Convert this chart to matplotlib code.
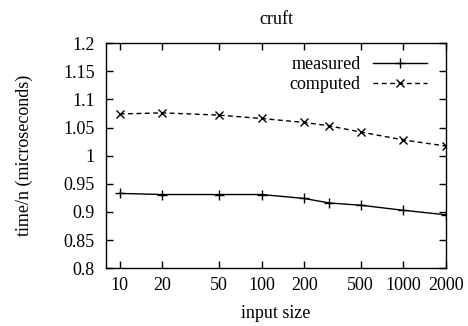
import matplotlib
matplotlib.use("Agg")
import matplotlib.pyplot as plt
from matplotlib.ticker import FixedLocator, NullLocator, FixedFormatter

plt.rcParams['font.family'] = ['Liberation Serif', 'DejaVu Serif']

sizes = [10, 20, 50, 100, 200, 300, 500, 1000, 2000]
measured = [0.933, 0.931, 0.931, 0.931, 0.924, 0.916, 0.912, 0.903, 0.895]
computed = [1.074, 1.076, 1.072, 1.066, 1.059, 1.053, 1.042, 1.028, 1.017]

xticks = [10, 20, 50, 100, 200, 500, 1000, 2000]
yticks = [0.8, 0.85, 0.9, 0.95, 1.0, 1.05, 1.1, 1.15, 1.2]
ytick_labels = ['0.8', '0.85', '0.9', '0.95', '1', '1.05', '1.1', '1.15', '1.2']

fs = 13

fig = plt.figure(figsize=(4.68, 3.26), dpi=100)
ax = fig.add_axes([0.2265, 0.177, 0.7265, 0.691])

ax.plot(sizes, measured, color='black', lw=1, marker='+', ms=6.5, mew=1,
        label='measured')
ax.plot(sizes, computed, color='black', lw=1, ls=(0, (3.5, 2.5)), marker='x',
        ms=5.5, mew=1, label='computed')

ax.set_xscale('log')
ax.set_xlim(8, 2000)
ax.set_ylim(0.8, 1.2)
ax.xaxis.set_major_locator(FixedLocator(xticks))
ax.xaxis.set_major_formatter(FixedFormatter([str(t) for t in xticks]))
ax.xaxis.set_minor_locator(NullLocator())
ax.yaxis.set_major_locator(FixedLocator(yticks))
ax.yaxis.set_major_formatter(FixedFormatter(ytick_labels))

ax.tick_params(direction='in', length=5, width=1, top=True, right=True,
               labelsize=fs)
ax.tick_params(axis='x', pad=6)
ax.tick_params(axis='y', pad=8)
for s in ax.spines.values():
    s.set_linewidth(1)

ax.set_title('cruft', fontsize=fs, pad=14)
ax.set_xlabel('input size', fontsize=fs)
ax.xaxis.set_label_coords(0.5, -0.163)
ax.set_ylabel('time/n (microseconds)', fontsize=fs)
ax.yaxis.set_label_coords(-0.241, 0.5)
ax.yaxis.label.set_va('center')

ax.legend(loc='upper right', bbox_to_anchor=(1 - 12 / 340, 1 - 6 / 225),
          borderaxespad=0, frameon=False, markerfirst=False, fontsize=fs,
          handlelength=3.0, handletextpad=0.67, labelspacing=0.15)

fig.savefig('out.png', dpi=100)
